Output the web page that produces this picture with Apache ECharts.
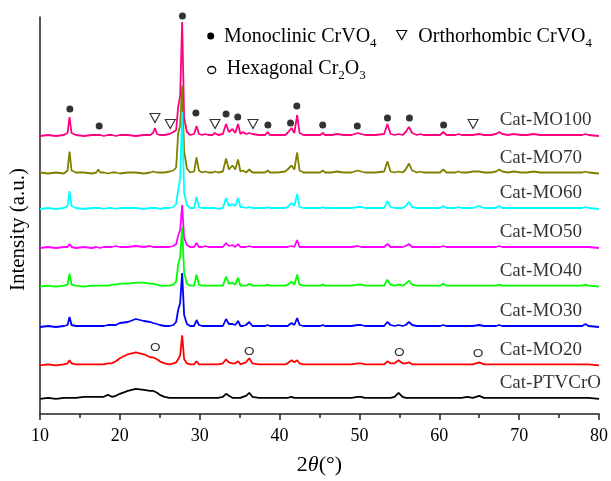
<!DOCTYPE html>
<html>
<head>
<meta charset="utf-8">
<title>XRD patterns</title>
<script src="https://cdn.jsdelivr.net/npm/echarts@6/dist/echarts.min.js"></script>
<style>
html, body { margin: 0; padding: 0; background: #fff; }
#chart { width: 611px; height: 481px; }
</style>
</head>
<body>
<div id="chart"></div>
<script>
// 2theta positions shared by all patterns (deg)
var twoTheta = [
  10, 11, 12, 13.0, 13.45, 13.7, 13.95, 14.5, 15.5, 16.5,
  17.05, 17.3, 17.55, 18.0, 18.5, 19.0, 19.5, 20.0, 21.0, 22.0,
  23.0, 23.8, 24.15, 24.4, 24.65, 25.0, 25.6, 26.2, 26.7, 27.05,
  27.3, 27.55, 27.8, 28.05, 28.4, 28.8, 29.3, 29.6, 29.9, 30.3,
  30.7, 31.1, 31.6, 31.9, 32.3, 32.9, 33.3, 33.65, 34.1, 34.45,
  34.8, 35.1, 35.4, 35.8, 36.2, 36.6, 37.4, 38.2, 38.5, 38.8,
  39.8, 40.7, 41.0, 41.25, 41.5, 41.85, 42.2, 42.5, 43.0, 44.2,
  45.1, 45.4, 45.7, 46.5, 47.2, 48.0, 49.0, 49.8, 50.2, 50.7,
  52.0, 53.1, 53.5, 53.9, 54.4, 54.9, 55.4, 55.8, 56.2, 56.6,
  57.2, 57.6, 58.0, 59.0, 60.1, 60.5, 60.9, 62.0, 62.4, 62.8,
  63.5, 64.2, 65.0, 65.6, 66.5, 67.1, 67.5, 67.9, 68.6, 69.3,
  70.2, 71.0, 71.8, 72.6, 74.0, 75.5, 77.0, 77.9, 78.3, 78.7,
  80
];

// intensities above each pattern's own baseline (a.u.)
var mo100 = [
  0, 1, 0, 1, 3, 19, 3, 1, 0, 1,
  1, 3, 1, 0, 1, 1, 0, 1, 1, 0,
  1, 1, 3, 8, 2, 1, 1, 2, 4, 6,
  29, 40, 114, 18, 4, 1, 2, 10, 2, 1,
  2, 1, 1, 3, 1, 2, 12, 4, 7, 3,
  12, 2, 4, 2, 3, 2, 1, 1, 4, 1,
  1, 1, 3, 4, 8, 3, 21, 3, 1, 1,
  1, 3, 1, 1, 2, 1, 1, 3, 2, 1,
  1, 2, 12, 2, 1, 2, 1, 4, 9, 3,
  1, 2, 1, 1, 1, 4, 1, 1, 2, 1,
  1, 1, 2, 1, 1, 2, 4, 2, 1, 2,
  1, 1, 2, 1, 1, 1, 1, 1, 2, 1,
  0
];
var mo70 = [
  1, 0, 1, 0, 3, 22, 3, 1, 1, 0,
  1, 4, 1, 1, 0, 1, 1, 0, 1, 1,
  0, 1, 2, 4, 1, 1, 1, 2, 3, 6,
  40, 48, 88, 22, 5, 1, 2, 16, 3, 1,
  2, 1, 1, 2, 1, 2, 15, 4, 8, 4,
  14, 2, 3, 1, 4, 1, 1, 1, 3, 1,
  1, 2, 4, 5, 8, 4, 21, 3, 1, 1,
  1, 3, 1, 1, 2, 1, 1, 3, 2, 1,
  1, 2, 12, 2, 1, 2, 1, 4, 10, 3,
  1, 2, 1, 1, 1, 4, 1, 1, 2, 1,
  1, 2, 2, 1, 1, 2, 4, 2, 1, 2,
  1, 1, 2, 1, 1, 1, 1, 1, 2, 1,
  0
];
var mo60 = [
  0, 1, 0, 1, 3, 18, 3, 1, 0, 1,
  1, 2, 1, 0, 1, 1, 0, 1, 1, 1,
  0, 1, 1, 2, 1, 0, 1, 1, 2, 5,
  19, 30, 97, 16, 4, 1, 1, 12, 2, 1,
  1, 1, 1, 1, 0, 1, 11, 3, 5, 3,
  11, 2, 2, 1, 2, 1, 1, 1, 2, 1,
  1, 1, 2, 3, 6, 3, 15, 2, 1, 1,
  1, 2, 1, 1, 1, 1, 1, 2, 2, 1,
  1, 1, 8, 2, 1, 1, 1, 3, 7, 2,
  1, 1, 1, 1, 1, 3, 1, 1, 2, 1,
  1, 1, 3, 1, 1, 1, 3, 1, 1, 1,
  1, 1, 1, 1, 1, 1, 1, 1, 2, 1,
  0
];
var mo50 = [
  0, 1, 0, 1, 1, 4, 1, 0, 1, 0,
  1, 1, 0, 1, 1, 1, 2, 1, 1, 2,
  1, 2, 1, 2, 1, 1, 1, 1, 2, 4,
  12, 18, 43, 10, 3, 1, 1, 5, 1, 1,
  2, 1, 1, 1, 1, 1, 5, 2, 3, 1,
  4, 1, 1, 1, 2, 1, 1, 1, 1, 1,
  1, 1, 1, 2, 2, 1, 8, 1, 1, 1,
  1, 1, 1, 1, 1, 1, 1, 2, 1, 1,
  1, 1, 4, 1, 1, 1, 1, 2, 4, 1,
  1, 1, 1, 1, 1, 2, 1, 1, 1, 1,
  1, 1, 1, 1, 1, 1, 2, 1, 1, 1,
  1, 1, 1, 1, 1, 1, 1, 1, 1, 1,
  0
];
var mo40 = [
  0, 1, 0, 1, 2, 13, 2, 1, 0, 1,
  1, 2, 1, 1, 1, 2, 2, 3, 3, 4,
  4, 3, 3, 5, 2, 1, 1, 1, 2, 5,
  22, 30, 60, 14, 3, 1, 1, 12, 2, 1,
  1, 1, 1, 1, 1, 1, 10, 3, 4, 2,
  9, 1, 1, 1, 3, 1, 1, 1, 2, 1,
  1, 1, 2, 3, 5, 2, 12, 2, 1, 1,
  1, 2, 1, 1, 1, 1, 1, 2, 2, 1,
  1, 1, 7, 2, 1, 2, 1, 3, 6, 2,
  1, 1, 1, 1, 1, 3, 1, 1, 1, 1,
  1, 1, 1, 1, 1, 1, 2, 1, 1, 1,
  1, 1, 1, 1, 1, 1, 1, 1, 2, 1,
  0
];
var mo30 = [
  0, 1, 0, 1, 2, 10, 2, 1, 1, 1,
  1, 2, 1, 1, 2, 2, 2, 4, 5, 8,
  6, 5, 4, 5, 3, 2, 1, 1, 2, 5,
  17, 24, 54, 12, 3, 1, 1, 7, 2, 1,
  1, 1, 1, 1, 1, 1, 8, 3, 3, 2,
  6, 1, 1, 2, 5, 1, 1, 1, 2, 1,
  1, 1, 1, 2, 4, 2, 9, 2, 1, 1,
  1, 2, 1, 1, 1, 1, 1, 2, 2, 1,
  1, 1, 5, 2, 1, 2, 1, 2, 5, 2,
  1, 1, 1, 1, 1, 2, 1, 1, 1, 1,
  1, 1, 2, 1, 1, 1, 2, 1, 1, 1,
  1, 1, 1, 1, 1, 1, 1, 1, 3, 1,
  0
];
var mo20 = [
  0, 1, 0, 1, 2, 5, 2, 1, 1, 1,
  1, 1, 1, 1, 2, 2, 4, 7, 11, 13,
  11, 8, 8, 9, 6, 4, 2, 1, 2, 3,
  6, 10, 30, 6, 2, 1, 1, 4, 1, 1,
  1, 1, 1, 1, 1, 2, 6, 3, 2, 2,
  4, 1, 2, 3, 7, 2, 1, 1, 1, 1,
  1, 1, 2, 3, 5, 3, 5, 2, 1, 1,
  1, 1, 1, 1, 1, 1, 1, 2, 2, 1,
  1, 1, 4, 2, 2, 5, 2, 2, 3, 1,
  1, 1, 1, 1, 1, 1, 1, 1, 1, 1,
  1, 1, 3, 1, 1, 1, 1, 1, 1, 1,
  1, 1, 1, 1, 1, 1, 1, 1, 1, 1,
  0
];
var ptvcro = [
  0, 1, 0, 1, 1, 1, 1, 1, 2, 2,
  2, 2, 2, 2, 4, 2, 3, 5, 8, 10,
  9, 8, 8, 10, 6, 4, 2, 1, 1, 1,
  1, 1, 1, 1, 1, 1, 1, 1, 1, 1,
  1, 1, 1, 1, 1, 2, 5, 3, 1, 1,
  1, 1, 2, 3, 6, 2, 1, 1, 1, 1,
  1, 1, 1, 2, 2, 1, 1, 1, 1, 1,
  1, 1, 1, 1, 1, 1, 1, 2, 2, 1,
  1, 1, 1, 1, 2, 6, 2, 1, 1, 1,
  1, 1, 1, 1, 1, 1, 1, 1, 1, 1,
  2, 1, 3, 1, 1, 1, 1, 1, 1, 1,
  1, 1, 1, 1, 1, 1, 1, 1, 1, 1,
  0
];

var patterns = [mo100, mo70, mo60, mo50, mo40, mo30, mo20, ptvcro];
var sampleNames = ['Cat-MO100', 'Cat-MO70', 'Cat-MO60', 'Cat-MO50', 'Cat-MO40', 'Cat-MO30', 'Cat-MO20', 'Cat-PTVCrO'];
// vertical stacking offset of each pattern
var offsets = [278, 240.5, 205, 166, 127.3, 87, 48.7, 15.2];
var lineColors = ['#ff0080', '#808000', '#00ffff', '#ff00ff', '#00ff00', '#0000ff', '#ff0000', '#000000'];

// phase marks [2theta, height]
var monoclinicMarks = [[27.84, 398], [13.74, 305], [17.41, 288], [29.52, 301], [33.3, 300], [34.76, 297],
  [38.54, 289], [41.37, 291], [42.16, 308], [45.4, 289], [49.73, 288], [53.51, 296], [56.26, 296], [60.54, 289]];
var orthorhombicMarks = [[24.4, 296], [26.31, 290], [31.92, 290], [36.67, 290], [64.23, 290]];
var hexagonalMarks = [[24.44, 67], [36.2, 63], [55.0, 62], [64.86, 61]];

var labelPos = 67.5;
var serif = '"Times New Roman", "Liberation Serif", serif';

var chart = echarts.init(document.getElementById('chart'));

var series = patterns.map(function (p, k) {
  if (p.length !== twoTheta.length) console.error(sampleNames[k] + ' length ' + p.length);
  return {
    name: sampleNames[k],
    type: 'line',
    showSymbol: false,
    symbol: 'none',
    lineStyle: { color: lineColors[k], width: 1.8 },
    data: twoTheta.map(function (t, i) { return [t, offsets[k] + p[i]]; })
  };
});

series.push({
  name: 'labels',
  type: 'scatter',
  symbolSize: 1,
  itemStyle: { color: 'transparent' },
  label: {
    show: true, position: 'right', distance: 0, formatter: '{b}',
    fontFamily: serif, fontSize: 19, color: '#000'
  },
  data: sampleNames.map(function (n, k) { return { name: n, value: [labelPos, offsets[k] + 15.5] }; })
});
series.push({
  name: 'Monoclinic CrVO4', type: 'scatter', clip: false, z: 5,
  symbol: 'circle', symbolSize: 7, itemStyle: { color: '#000' },
  data: monoclinicMarks
});
series.push({
  name: 'Orthorhombic CrVO4', type: 'scatter', clip: false, z: 5,
  symbol: 'path://M0,0L10,0L5,9Z', symbolSize: [10, 9],
  itemStyle: { color: 'rgba(0,0,0,0)', borderColor: '#000', borderWidth: 1.1 },
  data: orthorhombicMarks
});
series.push({
  name: 'Hexagonal Cr2O3', type: 'scatter', clip: false, z: 5,
  symbol: 'circle', symbolSize: [8, 7],
  itemStyle: { color: 'rgba(0,0,0,0)', borderColor: '#000', borderWidth: 1.3 },
  data: hexagonalMarks
});

var legendRich = {
  sub: { fontFamily: serif, fontSize: 13, padding: [14, 0, 0, 0], fill: '#000' }
};

chart.setOption({
  animation: false,
  backgroundColor: '#fff',
  grid: { left: 39, right: 11, top: 17, bottom: 67 },
  xAxis: {
    type: 'value', min: 10, max: 80, interval: 10,
    axisLine: { lineStyle: { color: '#222', width: 1.5 } },
    axisTick: { inside: false, length: 6, lineStyle: { color: '#222', width: 1.5 } },
    minorTick: { show: true, splitNumber: 2, length: 4, lineStyle: { color: '#222', width: 1.5 } },
    splitLine: { show: false },
    axisLabel: { fontFamily: serif, fontSize: 18, color: '#000', margin: 13 },
    name: '2{i|θ}(°)',
    nameLocation: 'middle',
    nameGap: 40,
    nameTextStyle: {
      fontFamily: serif, fontSize: 22, color: '#000',
      rich: { i: { fontFamily: serif, fontSize: 22, fontStyle: 'italic', color: '#000' } }
    }
  },
  yAxis: {
    type: 'value', min: 0, max: 397,
    axisLine: { show: true, lineStyle: { color: '#222', width: 1.5 } },
    axisTick: { show: false },
    axisLabel: { show: false },
    splitLine: { show: false },
    name: 'Intensity (a.u.)',
    nameLocation: 'middle',
    nameGap: 11,
    nameTextStyle: { fontFamily: serif, fontSize: 21, color: '#000', padding: [0, 28, 0, 0] }
  },
  graphic: [
    { type: 'circle', shape: { cx: 210.7, cy: 36, r: 3.5 }, style: { fill: '#000' } },
    { type: 'text', x: 224, y: 37, style: { text: 'Monoclinic CrVO{sub|4}', rich: legendRich, font: '20px ' + serif, fill: '#000', verticalAlign: 'middle' } },
    { type: 'polygon', shape: { points: [[396.7, 30.5], [406.7, 30.5], [401.7, 39.5]] }, style: { fill: 'none', stroke: '#000', lineWidth: 1.1 } },
    { type: 'text', x: 418.3, y: 37, style: { text: 'Orthorhombic CrVO{sub|4}', rich: legendRich, font: '20px ' + serif, fill: '#000', verticalAlign: 'middle' } },
    { type: 'ellipse', shape: { cx: 211.7, cy: 70, rx: 4, ry: 3.5 }, style: { fill: 'none', stroke: '#000', lineWidth: 1.3 } },
    { type: 'text', x: 226.7, y: 69, style: { text: 'Hexagonal Cr{sub|2}O{sub|3}', rich: legendRich, font: '20px ' + serif, fill: '#000', verticalAlign: 'middle' } }
  ],
  series: series
});
</script>
</body>
</html>
